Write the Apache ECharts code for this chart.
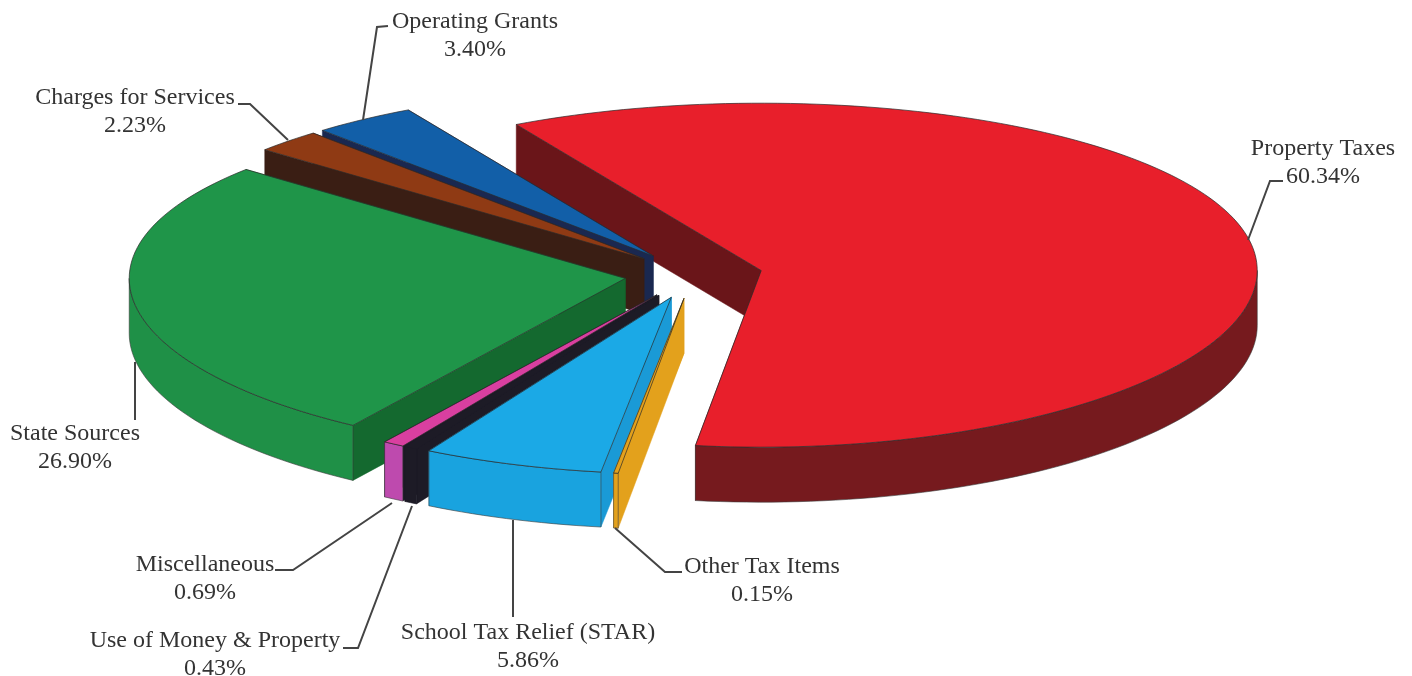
<!DOCTYPE html>
<html><head><meta charset="utf-8">
<style>html,body{margin:0;padding:0;background:#fff}#c{width:1412px;height:676px}</style>
<script src="https://cdn.jsdelivr.net/npm/echarts@6/dist/echarts.min.js"></script>
</head><body><div id="c"></div>
<script>
const categories = ["Property Taxes","Other Tax Items","School Tax Relief (STAR)","Use of Money & Property","Miscellaneous","State Sources","Charges for Services","Operating Grants"];
const values = [60.34,0.15,5.86,0.43,0.69,26.90,2.23,3.40];
const tickLabels = ["60.34%","0.15%","5.86%","0.43%","0.69%","26.90%","2.23%","3.40%"];
const topColors = ["#E81F2B","#E3A11C","#1BA9E6","#1D1B26","#D93FA0","#1F9549","#8F3A14","#125FA8"];
const wallColors = ["#761A1E","#E3A11C","#19A3DF","#1D1B26","#BE4AAE","#1F9047","#3C2016","#1C2C55"];
const faceColors = ["#6A1519","#E3A11C","#1A9AD6","#1D1B26","#1D1B26","#14692F","#3A1E14","#1A2850"];
const drawOrder = [0,7,6,5,4,3,2,1];
const labelCenters = [[1323,147],[762,565],[528,631],[215,639],[205,563],[75,432],[135,96],[475,20]];
const leaders = [
 [[1283,181],[1270,181],[1248,240]],
 [[615,528],[665,572],[682,572]],
 [[513,520],[513,617]],
 [[343,648],[358,648],[412,506]],
 [[275,570],[293,570],[392,503]],
 [[135,362],[135,420]],
 [[238,104],[250,104],[288,140]],
 [[388,26],[377,27],[363,120]]
];
const G = {cx:693.5,cy:275,rx:496,ry:172,persp:0.027,squash:0.34,explode:69,depth:55,start:-29.6};
const total = values.reduce((a,b)=>a+b,0);
const rad = d=>d*Math.PI/180;
const spans = []; (function(){let a=G.start;values.forEach(v=>{const s=v/total*360;spans.push([a,a+s]);a+=s;});})();
function apexOf(i){const m=rad((spans[i][0]+spans[i][1])/2);
  return [G.cx+G.explode*Math.sin(m),G.cy-G.explode*Math.cos(m)*G.squash];}
function rim(i,deg,dz){const a=apexOf(i),t=rad(deg),v=-Math.cos(t);
  return [a[0]+G.rx*Math.sin(t),a[1]+G.ry*v*(1+G.persp*v)+dz];}
function arcPts(i,a0,a1,dz){const n=Math.max(1,Math.ceil(Math.abs(a1-a0)/1.5)),o=[];
  for(let k=0;k<=n;k++)o.push(rim(i,a0+(a1-a0)*k/n,dz));return o;}
function render(params,api){
  const i=api.value(0),[a0,a1]=spans[i],rank=drawOrder.indexOf(i),ap=apexOf(i),d=G.depth,ch=[];
  const dark=topColors[i]==="#1D1B26";
  const face=(deg,z)=>{const p=rim(i,deg,0),q=rim(i,deg,d);
    ch.push({type:'polygon',z2:rank*4+z,shape:{points:[ap,p,q,[ap[0],ap[1]+d]]},style:{fill:faceColors[i],stroke:faceColors[i],lineWidth:0.5}});};
  face(a1,0);face(a0,1);
  const fl=Math.max(a0,90),fh=Math.min(a1,270);
  if(fh>fl){const topA=arcPts(i,fl,fh,0),botA=arcPts(i,fh,fl,d);
    ch.push({type:'polygon',z2:rank*4+2,shape:{points:topA.concat(botA)},style:{fill:wallColors[i],stroke:dark?wallColors[i]:"#3a3a3a",lineWidth:0.6}});}
  ch.push({type:'polygon',z2:rank*4+3,shape:{points:[ap].concat(arcPts(i,a0,a1,0))},style:{fill:topColors[i],stroke:dark?topColors[i]:"#2a2a2a",lineWidth:0.7}});
  return {type:'group',children:ch};
}
const labelFont='24px "Liberation Serif","Times New Roman",serif';
const graphic=[];
categories.forEach((c,i)=>{
  graphic.push({type:'text',x:labelCenters[i][0],y:labelCenters[i][1]-12,z:10,silent:true,
    style:{text:c+"\n"+tickLabels[i],font:labelFont,fill:"#333",lineHeight:28,align:'center',verticalAlign:'top'}});
  graphic.push({type:'polyline',z:9,silent:true,shape:{points:leaders[i]},style:{stroke:"#444",lineWidth:2,fill:null}});
});
const chart=echarts.init(document.getElementById('c'),null,{renderer:'canvas'});
chart.setOption({animation:false,backgroundColor:"#fff",graphic:{elements:graphic},
  series:[{type:'custom',coordinateSystem:'none',silent:true,renderItem:render,
    encode:{value:0},data:categories.map((c,i)=>({name:c,value:[i,values[i]]}))}]});
</script></body></html>
